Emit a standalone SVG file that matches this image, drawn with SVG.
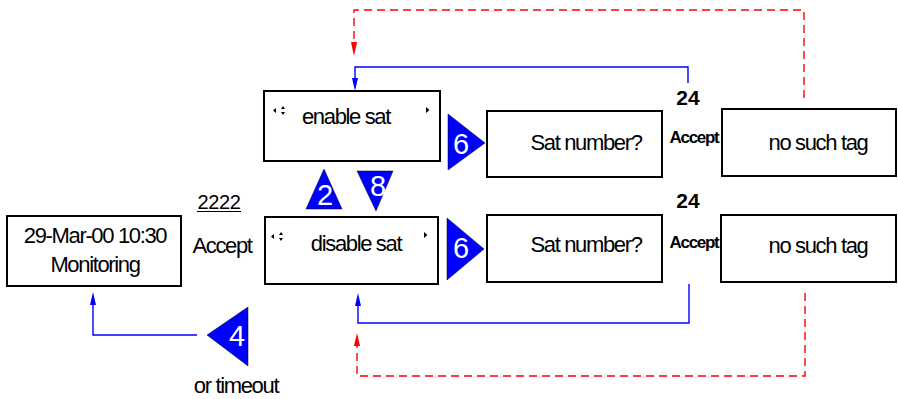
<svg xmlns="http://www.w3.org/2000/svg" width="898" height="399" viewBox="0 0 898 399">
<style>
.box{fill:#fff;stroke:#000;stroke-width:2}
.t{font-family:"Liberation Sans",Arial,sans-serif;font-size:22px;letter-spacing:-1.35px;fill:#000;text-anchor:middle}
.b{font-family:"Liberation Sans",Arial,sans-serif;font-weight:bold;fill:#000;text-anchor:middle}
.num{font-family:"Liberation Sans",Arial,sans-serif;font-size:29px;fill:#fff;text-anchor:middle}
.tri{fill:#0000ff;stroke:#000;stroke-width:0.5}
.blue{fill:none;stroke:#0000ff;stroke-width:1.4}
.red{fill:none;stroke:#ff0000;stroke-width:1.4;stroke-dasharray:8,5}
.g{fill:#000}
</style>
<g id="connectors">
<path class="blue" d="M688,83 V67 H355 V84"/>
<path d="M352,78 L355,91 L358,78 Z" fill="#0000ff"/>
<path class="red" d="M804,98 V10 H354 V44"/>
<path d="M351,42 L354,56 L357,42 Z" fill="#ff0000"/>
<path class="blue" d="M689,284 V323 H358 V302"/>
<path d="M355,306 L358,293 L361,306 Z" fill="#0000ff"/>
<path class="red" d="M805,293 V376 H357 V346"/>
<path d="M354,346 L357,333 L360,346 Z" fill="#ff0000"/>
<path class="blue" d="M197,335 H93 V302"/>
<path d="M90,305 L93,292 L96,305 Z" fill="#0000ff"/>
</g>
<g id="monitoring">
<rect class="box" x="7" y="216" width="174" height="70"/>
<text class="t" x="95" y="243">29-Mar-00 10:30</text>
<text class="t" x="95" y="272">Monitoring</text>
</g>
<g id="label-2222">
<text class="t" x="219" y="209" style="font-size:20px;letter-spacing:-0.4px">2222</text>
<line x1="197" y1="211.5" x2="241" y2="211.5" stroke="#000" stroke-width="1"/>
<text class="t" x="222" y="253">Accept</text>
</g>
<g id="enable-sat">
<rect class="box" x="264" y="91" width="176" height="70"/>
<text class="t" x="346" y="124">enable sat</text>
<path class="g" d="M276,108 L273,110.5 L276,113 Z M281,109 L283,106 L285,109 Z M281,112 L283,115 L285,112 Z M426,107 L429.5,110 L426,113 Z"/>
</g>
<g id="disable-sat">
<rect class="box" x="265" y="217" width="173" height="67"/>
<text class="t" x="356" y="251">disable sat</text>
<path class="g" d="M274,234 L271,236.5 L274,239 Z M279,235 L281,232 L283,235 Z M279,238 L281,241 L283,238 Z M424,232 L427.5,235 L424,238 Z"/>
</g>
<g id="key-2">
<path class="tri" d="M324,169 L342,209 L306,209 Z"/>
<text class="num" x="325" y="205">2</text>
</g>
<g id="key-8">
<path class="tri" d="M357,171 L393,171 L376,211 Z"/>
<text class="num" x="378" y="196">8</text>
</g>
<g id="key-6-top">
<path class="tri" d="M448,114 L485,143 L448,170 Z"/>
<text class="num" x="461" y="154">6</text>
</g>
<g id="key-6-bottom">
<path class="tri" d="M447,218 L484,249 L447,280 Z"/>
<text class="num" x="461" y="258">6</text>
</g>
<g id="key-4">
<path class="tri" d="M207,335 L248,307 L248,366 Z"/>
<text class="num" x="237" y="346">4</text>
<text class="t" x="236" y="393">or timeout</text>
</g>
<g id="sat-number-top">
<rect class="box" x="487" y="111" width="175" height="66"/>
<text class="t" x="586" y="150">Sat number?</text>
</g>
<g id="sat-number-bottom">
<rect class="box" x="487" y="215" width="175" height="67"/>
<text class="t" x="586" y="252">Sat number?</text>
</g>
<g id="accept-top">
<text class="b" x="688" y="105" style="font-size:21px">24</text>
<text class="b" x="694" y="143" style="font-size:17px;letter-spacing:-1.3px">Accept</text>
</g>
<g id="accept-bottom">
<text class="b" x="688" y="208" style="font-size:21px">24</text>
<text class="b" x="694" y="248" style="font-size:17px;letter-spacing:-1.3px">Accept</text>
</g>
<g id="no-such-tag-top">
<rect class="box" x="722" y="109" width="174" height="67"/>
<text class="t" x="818" y="150">no such tag</text>
</g>
<g id="no-such-tag-bottom">
<rect class="box" x="721" y="215" width="175" height="67"/>
<text class="t" x="818" y="253">no such tag</text>
</g>
</svg>
